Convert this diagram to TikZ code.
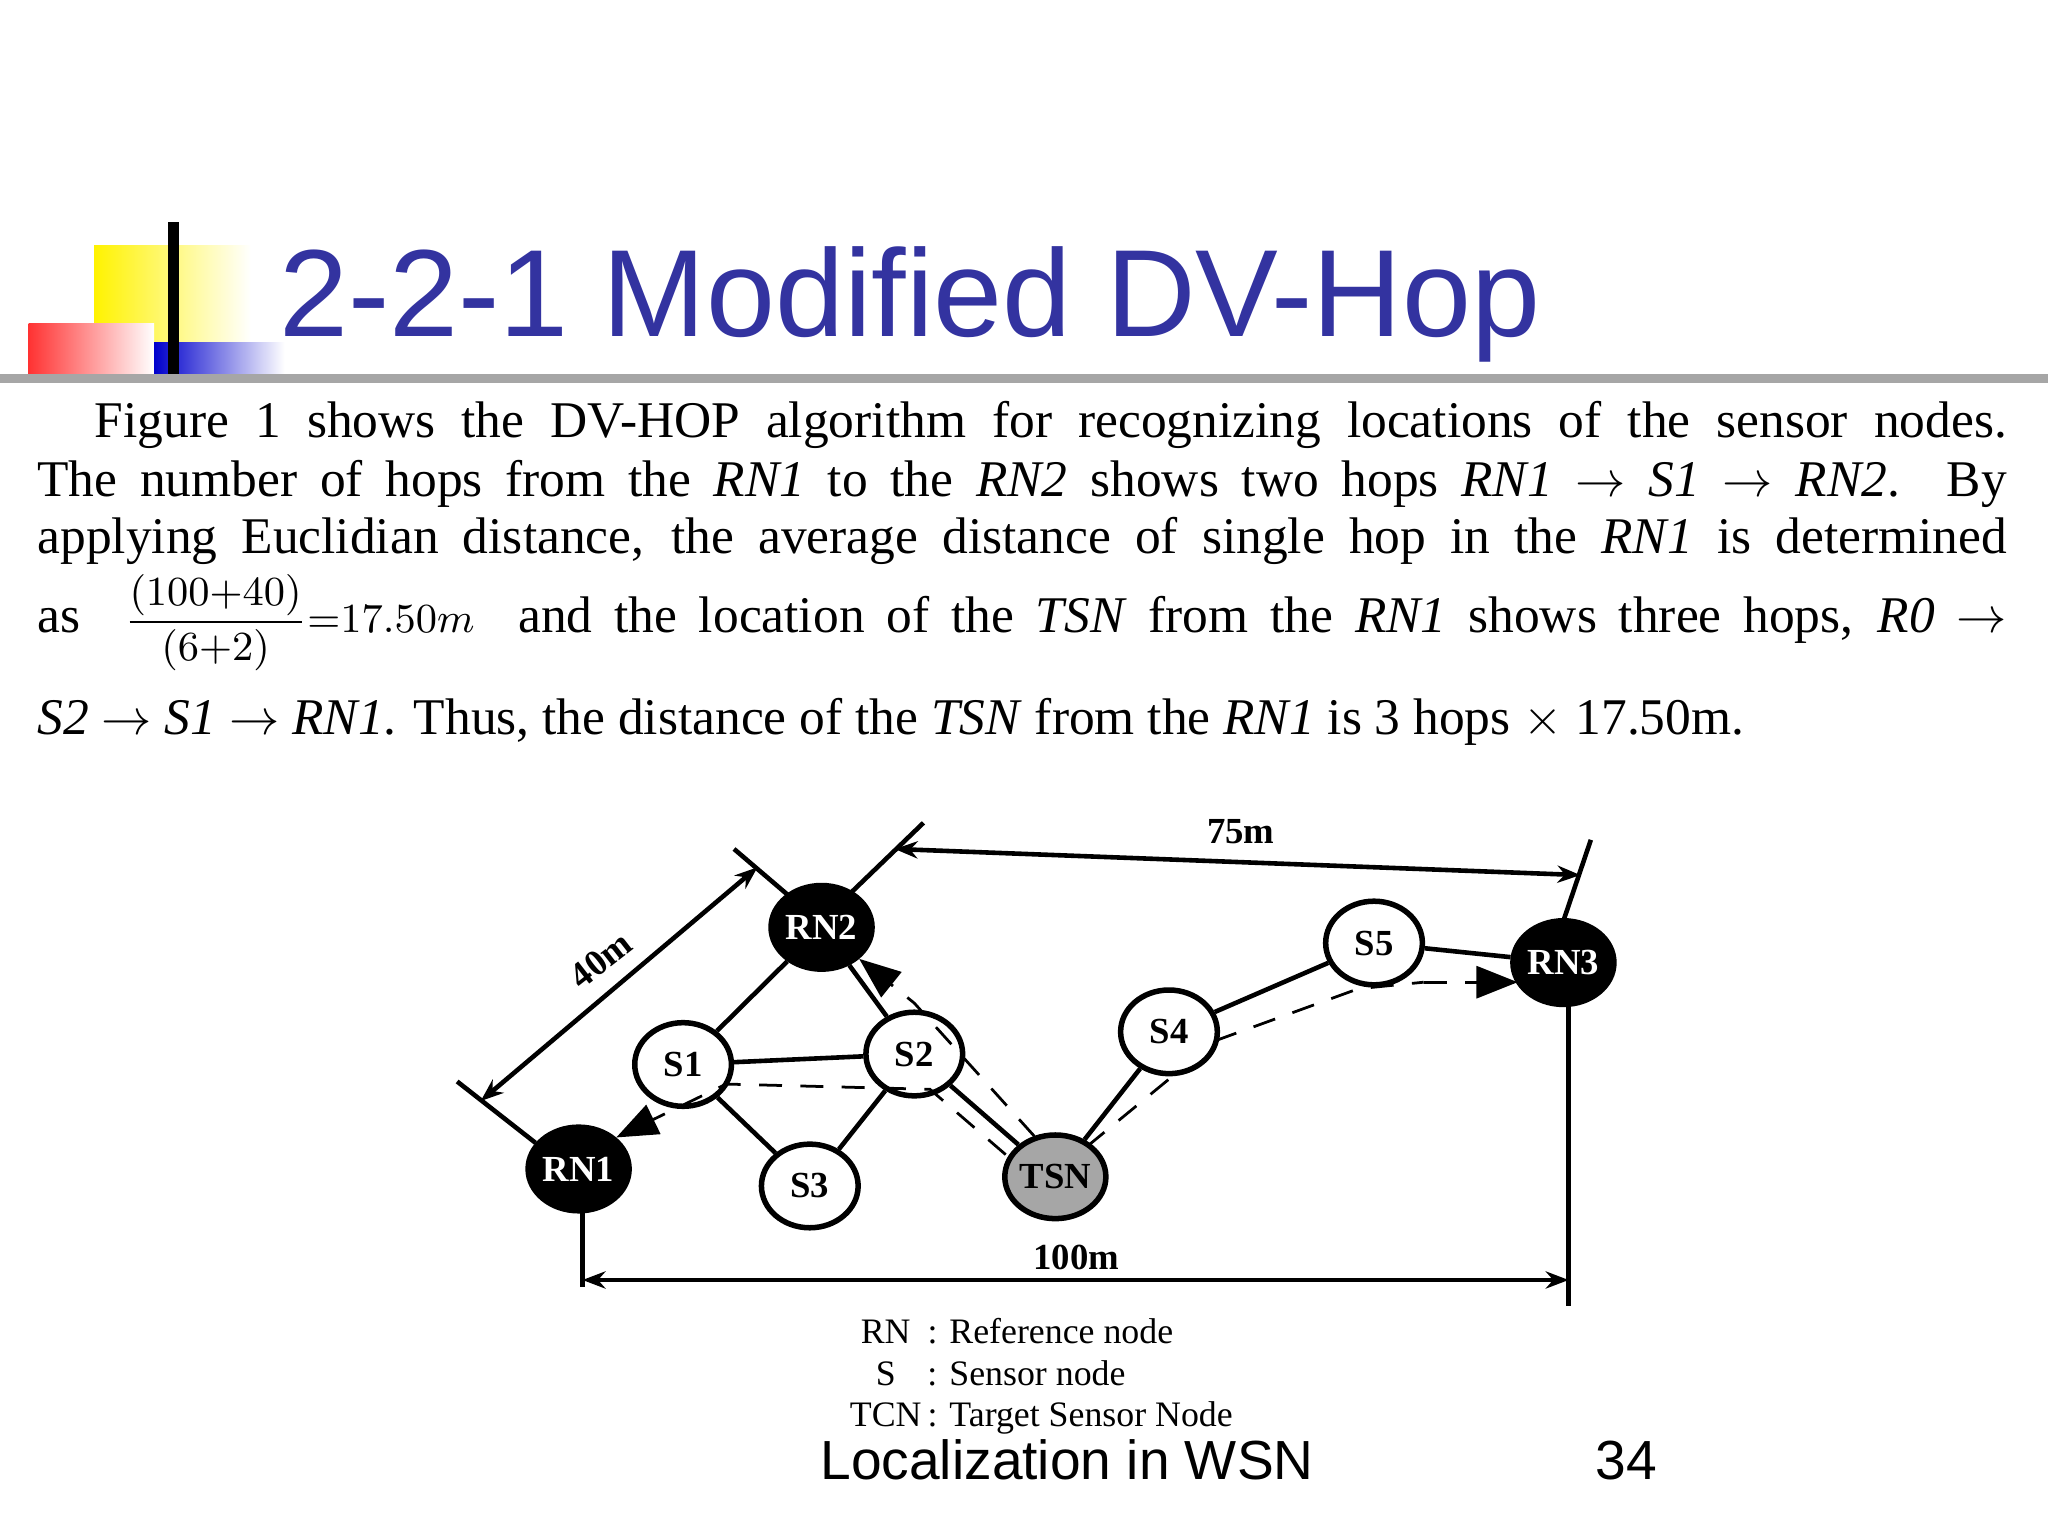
\documentclass[tikz,border=0pt]{standalone}
\usepackage{fontspec}
\setmainfont{Liberation Serif}
\newfontfamily\titlefont{Liberation Sans}
\usetikzlibrary{arrows.meta,shapes.geometric}
\definecolor{ttl}{RGB}{51,51,160}
\tikzset{
 nd/.style={ellipse,draw,line width=1.2pt,minimum width=0.74cm,minimum height=0.64cm,inner sep=0pt,font=\fontsize{8}{8}\selectfont\bfseries},
 rn/.style={nd,fill=black,text=white},
 sn/.style={nd,fill=white},
 tsn/.style={nd,fill=gray!70},
 ln/.style={line width=1pt},
 dl/.style={line width=0.6pt,dash pattern=on 5pt off 4pt},
 dim/.style={line width=1pt,{Stealth[length=5pt]}-{Stealth[length=5pt]}},
 tx/.style={anchor=base west,inner sep=0pt,font=\fontsize{11.2}{13}\selectfont},
 tip/.style={-{Triangle[length=9pt,width=7pt]}},
}
\newcommand\jl[1]{\makebox[15.07cm][s]{#1}}
\begin{document}
\begin{tikzpicture}[x=0.01cm,y=-0.01cm]
\useasboundingbox (0,0) rectangle (1568,1176);
\fill[white] (0,0) rectangle (1568,1176);
% decorations
\shade[left color=yellow!90!orange,right color=white] (72,188) rectangle (192,262);
\shade[left color=red!80,right color=white] (22,248) rectangle (118,288);
\shade[left color=blue!80!black,right color=white] (118,262) rectangle (218,288);
\draw[line width=2.5pt] (133,170) -- (133,288);
\draw[gray!70,line width=2pt] (0,290) -- (1568,290);
\node[anchor=base west,inner sep=0pt,text=ttl,font=\titlefont\fontsize{27}{30}\selectfont] (title) at (213,258) {2-2-1 Modified DV-Hop};
% paragraph
\node[tx] (p1) at (72,335) {\makebox[14.63cm][s]{Figure 1 shows the DV-HOP algorithm for recognizing locations of the sensor nodes.}};
\node[tx] (p2) at (28,380) {\jl{The number of hops from the \textit{RN1} to the \textit{RN2} shows two hops \textit{RN1} $\rightarrow$ \textit{S1} $\rightarrow$ \textit{RN2}. By}};
\node[tx] (p3) at (28,424) {\jl{applying Euclidian distance, the average distance of single hop in the \textit{RN1} is determined}};
\node[tx] (p4) at (28,484) {\jl{as \ {\fontsize{9.5}{10}\selectfont$\displaystyle\frac{(100{+}40)}{(6{+}2)}{=}17.50m$} \ and the location of the \textit{TSN} from the \textit{RN1} shows three hops, \textit{R0} $\rightarrow$}};
\node[tx] (p5) at (28,562) {\textit{S2} $\rightarrow$ \textit{S1} $\rightarrow$ \textit{RN1}. Thus, the distance of the \textit{TSN} from the \textit{RN1} is 3 hops $\times$ 17.50m.};
% nodes
\node[rn] (RN2) at (629,710) {RN2};
\node[rn] (RN1) at (443,895) {RN1};
\node[rn] (RN3) at (1197,737) {RN3};
\node[sn] (S1) at (523,815) {S1};
\node[sn] (S2) at (700,807) {S2};
\node[sn] (S3) at (620,908) {S3};
\node[sn] (S4) at (895,790) {S4};
\node[sn] (S5) at (1052,722) {S5};
\node[tsn] (TSN) at (808,901) {TSN};
% solid edges
\draw[ln] (RN2) -- (S1);
\draw[ln] (RN2) -- (S2);
\draw[ln] (S1) -- (S2);
\draw[ln] (S1) -- (S3);
\draw[ln] (S3) -- (S2);
\draw[ln] (S2) -- (TSN);
\draw[ln] (TSN) -- (S4);
\draw[ln] (S4) -- (S5);
\draw[ln] (S5) -- (RN3);
% dashed route paths
\coordinate (q1) at (770,884); \coordinate (q2) at (712,834); \coordinate (q3) at (556,830);
\draw[dl,tip] (q1) -- (q2) -- (q3) -- (RN1.north east);
\coordinate (r1) at (792,870); \coordinate (r2) at (700,768);
\draw[dl,tip] (r1) -- (r2) -- (RN2.south east);
\coordinate (t1) at (832,878); \coordinate (t2) at (905,818); \coordinate (t3) at (930,797);
\coordinate (t4) at (1040,757); \coordinate (t5) at (1090,752); \coordinate (t6) at (1162,752);
\draw[dl] (t1) -- (t2) (t3) -- (t4) -- (t5);
\draw[dl,tip] (t5) -- (t6);
% dimensions
\coordinate (a1) at (350,828); \coordinate (a2) at (410,875);
\coordinate (b1) at (562,650); \coordinate (b2) at (603,685);
\draw[line width=1pt] (a1) -- (a2) (b1) -- (b2);
\coordinate (d1) at (368,843); \coordinate (d2) at (580,664);
\draw[dim] (d1) -- (d2);
\node[rotate=38,inner sep=0pt,font=\fontsize{8}{8}\selectfont\bfseries] (l40) at (460,735) {40m};
\coordinate (c1) at (652,683); \coordinate (c2) at (707,630);
\coordinate (e1) at (1197,705); \coordinate (e2) at (1218,643);
\draw[line width=1pt] (c1) -- (c2) (e1) -- (e2);
\coordinate (f1) at (685,650); \coordinate (f2) at (1210,670);
\draw[dim] (f1) -- (f2);
\node[font=\fontsize{8}{8}\selectfont\bfseries] (l75) at (950,637) {75m};
\coordinate (g1) at (446,920); \coordinate (g2) at (446,985);
\coordinate (h1) at (1201,770); \coordinate (h2) at (1201,1000);
\draw[line width=1pt] (g1) -- (g2) (h1) -- (h2);
\coordinate (k1) at (446,980); \coordinate (k2) at (1201,980);
\draw[dim] (k1) -- (k2);
\node[font=\fontsize{8}{8}\selectfont\bfseries] (l100) at (824,963) {100m};
% legend
\node[anchor=north west,inner sep=0pt,font=\fontsize{7.8}{9}\selectfont] (leg) at (650,1006) {\begin{tabular}{@{}c@{\,}l@{}}RN & : Reference node\\[0pt] S & : Sensor node\\[0pt] TCN & : Target Sensor Node\end{tabular}};
% footer
\node[anchor=base,inner sep=0pt,font=\titlefont\fontsize{12}{12}\selectfont] (foot) at (817,1133) {Localization in WSN};
\node[anchor=base,inner sep=0pt,font=\titlefont\fontsize{12}{12}\selectfont] (pg) at (1245,1133) {34};
\end{tikzpicture}
\end{document}
